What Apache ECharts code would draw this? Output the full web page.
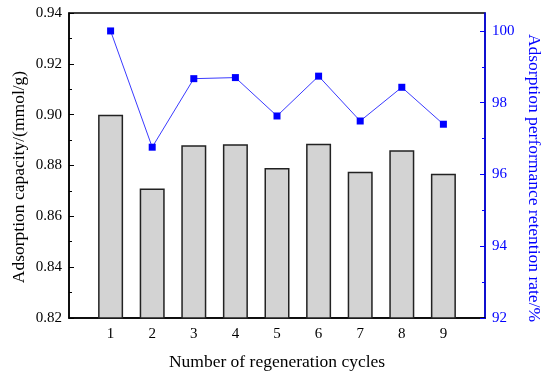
<!DOCTYPE html>
<html>
<head>
<meta charset="utf-8">
<script src="https://cdn.jsdelivr.net/npm/echarts@6/dist/echarts.min.js"></script>
<style>html,body{margin:0;padding:0;background:#fff;}#c{width:550px;height:376px;}</style>
</head>
<body>
<div id="c"></div>
<script>
const cycles = [1, 2, 3, 4, 5, 6, 7, 8, 9];
const capacity = [0.900, 0.871, 0.888, 0.8884, 0.879, 0.8886, 0.8775, 0.886, 0.8768];
const retention = [100.0, 96.76, 98.67, 98.70, 97.63, 98.74, 97.49, 98.43, 97.40];
const leftTicks = [0.82, 0.84, 0.86, 0.88, 0.90, 0.92, 0.94];
const rightTicks = [92, 94, 96, 98, 100];
const rightMinor = [93, 95, 97, 99];
const xTitle = 'Number of regeneration cycles';
const leftTitle = 'Adsorption capacity/(mmol/g)';
const rightTitle = 'Adsorption performance retention rate/%';

const FONT = 'Liberation Serif';
const BLUE = '#0000ff';
const chart = echarts.init(document.getElementById('c'), null, {renderer: 'canvas'});
const barData = cycles.map((c, i) => [c, capacity[i]]);
const lineData = cycles.map((c, i) => [c, retention[i]]);
const titleFont = '17.5px "' + FONT + '"';

chart.setOption({
  animation: false,
  grid: {left: 69, right: 65, top: 13, bottom: 58, show: true, borderColor: '#000', borderWidth: 1.5, backgroundColor: 'transparent'},
  xAxis: {
    type: 'value', min: 0, max: 10, interval: 1,
    axisLine: {show: true, lineStyle: {color: '#000', width: 1.5}},
    axisTick: {show: false},
    splitLine: {show: false},
    axisLabel: {
      color: '#000', fontFamily: FONT, fontSize: 15, margin: 9,
      formatter: v => (cycles.indexOf(v) >= 0 ? String(v) : '')
    }
  },
  yAxis: [
    {
      type: 'value', min: leftTicks[0], max: leftTicks[leftTicks.length - 1], interval: 0.02,
      position: 'left',
      axisLine: {show: true, lineStyle: {color: '#000', width: 1.5}},
      axisTick: {show: true, inside: true, length: 5, lineStyle: {color: '#000', width: 1}},
      minorTick: {show: true, splitNumber: 2, length: 3, lineStyle: {color: '#000', width: 1}},
      splitLine: {show: false},
      axisLabel: {color: '#000', fontFamily: FONT, fontSize: 15, margin: 7, formatter: v => v.toFixed(2)}
    },
    {
      type: 'value', min: 92, max: 100.5,
      position: 'right',
      axisLine: {show: true, lineStyle: {color: BLUE, width: 1.5}},
      axisTick: {show: true, inside: true, length: 5, customValues: rightTicks, lineStyle: {color: BLUE, width: 1}},
      splitLine: {show: false},
      axisLabel: {color: BLUE, fontFamily: FONT, fontSize: 15, margin: 7, customValues: rightTicks}
    },
    {
      type: 'value', min: 92, max: 100.5,
      position: 'right',
      axisLine: {show: false},
      axisTick: {show: true, inside: true, length: 3, customValues: rightMinor, lineStyle: {color: BLUE, width: 1}},
      splitLine: {show: false},
      axisLabel: {show: false}
    }
  ],
  series: [
    {
      type: 'bar', yAxisIndex: 0, data: barData, barWidth: 25,
      itemStyle: {color: '#d3d3d3', borderColor: '#222', borderWidth: 1.5}
    },
    {
      type: 'line', yAxisIndex: 1, data: lineData,
      symbol: 'rect', symbolSize: 7,
      lineStyle: {color: '#3a3aff', width: 1},
      itemStyle: {color: BLUE}
    }
  ],
  graphic: [
    {type: 'text', x: 277, y: 362, style: {text: xTitle, font: titleFont, fill: '#000', align: 'center', verticalAlign: 'middle'}},
    {type: 'text', x: 19, y: 177, rotation: Math.PI / 2, style: {text: leftTitle, font: titleFont, fill: '#000', align: 'center', verticalAlign: 'middle'}},
    {type: 'text', x: 534, y: 178, rotation: -Math.PI / 2, style: {text: rightTitle, font: titleFont, fill: BLUE, align: 'center', verticalAlign: 'middle'}}
  ]
});
</script>
</body>
</html>
